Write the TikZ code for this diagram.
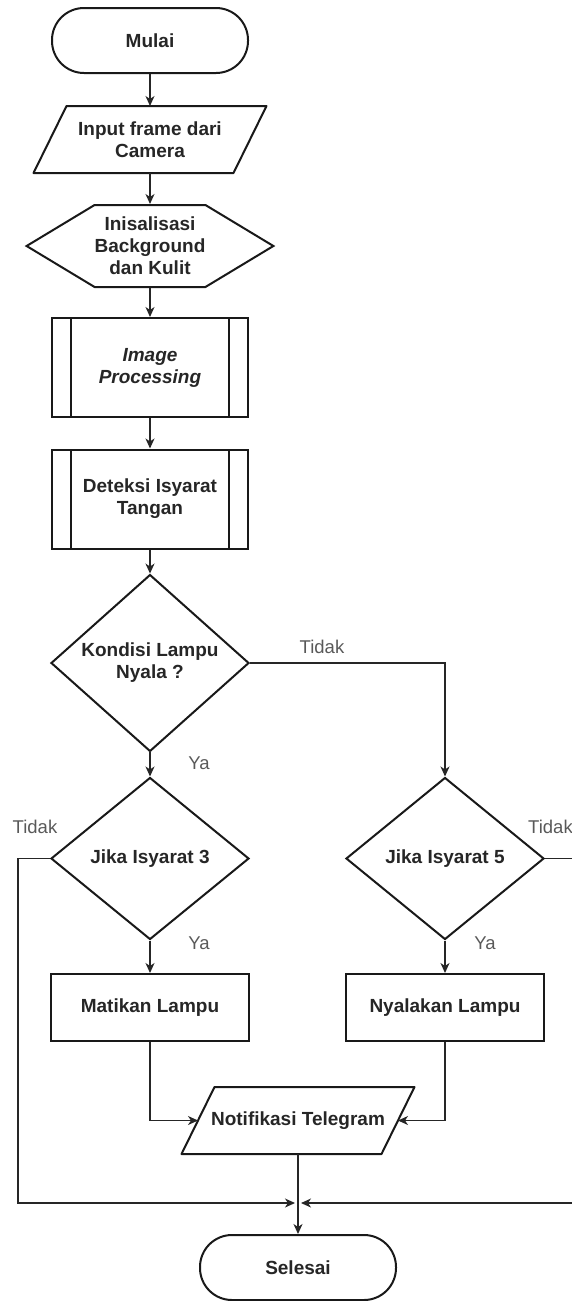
\documentclass[tikz,border=0pt]{standalone}
\usepackage{fontspec}
\setmainfont{Liberation Sans}
\usetikzlibrary{arrows.meta,positioning,shapes.geometric,shapes.symbols,calc}

\begin{document}
\begin{tikzpicture}[
  x=1pt, y=-1pt,
  font=\fontsize{19}{22}\selectfont\bfseries,
  base/.style={draw=black!90, line width=2pt, text=black!85, align=center, inner sep=0pt},
  terminal/.style={base, rectangle, rounded corners=32pt, minimum width=196pt, minimum height=65pt},
  io/.style={base, draw=none, rectangle, minimum width=198pt, minimum height=65pt,
    append after command={\pgfextra{\draw[draw=black!90, line width=2pt, line join=round]
      ([xshift=16.5pt]\tikzlastnode.north west) -- ([xshift=16.5pt]\tikzlastnode.north east)
      -- ([xshift=-16.5pt]\tikzlastnode.south east) -- ([xshift=-16.5pt]\tikzlastnode.south west) -- cycle;}}},
  hexa/.style={base, signal, signal to=west and east, signal pointer angle=62.2, minimum width=246pt, minimum height=82pt},
  subproc/.style={base, rectangle, minimum width=196pt, minimum height=99pt,
    path picture={\draw[line width=2pt, black!90]
      ([xshift=19pt]path picture bounding box.north west) -- ([xshift=19pt]path picture bounding box.south west)
      ([xshift=-19pt]path picture bounding box.north east) -- ([xshift=-19pt]path picture bounding box.south east);}},
  decision/.style={base, diamond, minimum width=198pt, minimum height=162pt},
  process/.style={base, rectangle, minimum width=198pt, minimum height=67pt},
  line/.style={draw=black!85, line width=1.3pt},
  arrow/.style={line, -{Stealth[length=10pt,width=9pt,inset=3pt]}},
  lbl/.style={font=\fontsize{18.5}{22}\selectfont, text=black!65, inner sep=0pt}
]
\useasboundingbox (0,0) rectangle (571,1301);

% kolom utama
\node[terminal] (mulai) at (150,40.5) {Mulai};
\node[io] (input) at (150,139.5) {Input frame dari\\Camera};
\node[hexa] (init) at (150,246) {Inisalisasi\\Background\\dan Kulit};
\node[subproc] (imgproc) at (150,367.5) {\textit{Image}\\\textit{Processing}};
\node[subproc] (deteksi) at (150,499) {Deteksi Isyarat\\Tangan};
\node[decision] (kondisi) at (150,663) {Kondisi Lampu\\Nyala ?};

% cabang
\node[decision] (cek3) at (150,858.5) {Jika Isyarat 3};
\node[decision] (cek5) at (445,858.5) {Jika Isyarat 5};
\node[process] (matikan) at (150,1007.5) {Matikan Lampu};
\node[process] (nyalakan) at (445,1007.5) {Nyalakan Lampu};

% akhir
\node[io] (notif) at (298,1120.5) {Notifikasi Telegram};
\node[terminal] (selesai) at (298,1267.5) {Selesai};

\coordinate (gabung) at (298,1203);
\coordinate (kiri) at (18,1203);
\coordinate (kanan) at (575,1203);

% panah
\draw[arrow] (mulai.south) -- (input.north);
\draw[arrow] (input.south) -- (init.north);
\draw[arrow] (init.south) -- (imgproc.north);
\draw[arrow] (imgproc.south) -- (deteksi.north);
\draw[arrow] (deteksi.south) -- (kondisi.north);
\draw[arrow] (kondisi.south) -- (cek3.north);
\draw[arrow] (kondisi.east) -| (cek5.north);
\draw[arrow] (cek3.south) -- (matikan.north);
\draw[arrow] (cek5.south) -- (nyalakan.north);
\draw[arrow] (matikan.south) |- (notif.west);
\draw[arrow] (nyalakan.south) |- (notif.east);
\draw[arrow] (cek3.west) -| (kiri) -- ([xshift=-3pt]gabung);
\draw[arrow] (cek5.east) -| (kanan) -- ([xshift=3pt]gabung);
\draw[arrow] (notif.south) -- (selesai.north);

% label
\node[lbl] (ya1) at (199,763) {Ya};
\node[lbl] (tidak1) at (322,647) {Tidak};
\node[lbl] (tidak3) at (35,827) {Tidak};
\node[lbl, anchor=west] (tidak5) at (528,827) {Tidak};
\node[lbl] (ya3) at (199,943) {Ya};
\node[lbl] (ya5) at (485,943) {Ya};

\end{tikzpicture}
\end{document}
